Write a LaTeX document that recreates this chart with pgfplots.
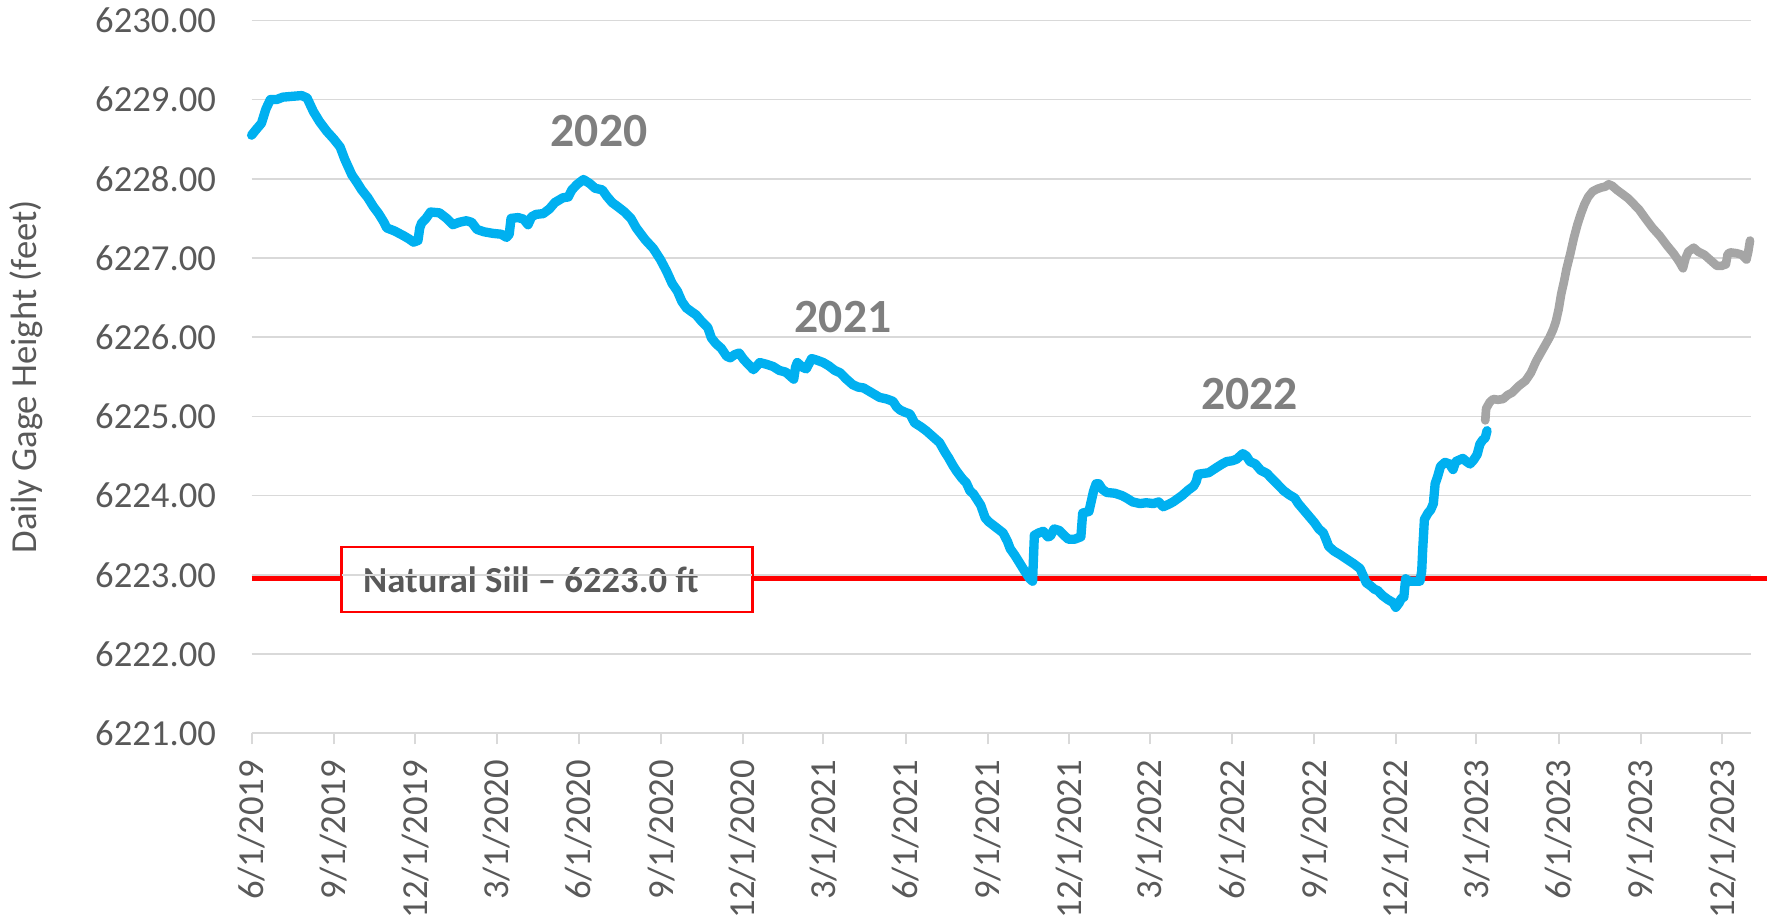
\documentclass[border=0pt]{standalone}
\usepackage{fontspec}
\setmainfont{Carlito}
\usepackage{pgfplots}
\pgfplotsset{compat=1.18}
\usepackage{pgfplotstable}
\usetikzlibrary{calc}
\definecolor{lakeblue}{HTML}{00B0F0}
\definecolor{futuregray}{HTML}{A5A5A5}
\definecolor{yeargray}{HTML}{7F7F7F}
\definecolor{textgray}{HTML}{595959}
\definecolor{gridgray}{HTML}{D9D9D9}

% day = days since 6/1/2019, level = gage height (ft)
\pgfplotstableread{
day level
0 6228.55
5 6228.62
11 6228.70
16 6228.88
21 6229.00
28 6229.00
35 6229.03
45 6229.04
56 6229.05
62 6229.02
69 6228.85
76 6228.72
84 6228.60
92 6228.50
99 6228.40
104 6228.25
112 6228.05
118 6227.95
123 6227.86
130 6227.76
136 6227.65
142 6227.56
148 6227.45
151 6227.38
160 6227.34
170 6227.28
176 6227.24
181 6227.20
186 6227.22
188 6227.38
190 6227.44
195 6227.50
200 6227.58
210 6227.57
218 6227.50
225 6227.42
232 6227.45
240 6227.47
246 6227.45
252 6227.36
260 6227.33
270 6227.31
279 6227.30
285 6227.26
288 6227.30
290 6227.50
298 6227.51
304 6227.49
309 6227.42
313 6227.52
318 6227.55
326 6227.56
333 6227.62
339 6227.70
348 6227.76
354 6227.77
358 6227.86
364 6227.93
371 6227.99
378 6227.94
384 6227.88
392 6227.86
397 6227.78
403 6227.70
409 6227.65
417 6227.58
424 6227.50
430 6227.38
440 6227.23
449 6227.12
457 6226.98
464 6226.83
470 6226.68
476 6226.58
481 6226.45
486 6226.37
492 6226.32
497 6226.28
503 6226.20
510 6226.12
514 6225.99
519 6225.92
525 6225.86
531 6225.76
535 6225.74
540 6225.78
545 6225.80
550 6225.72
555 6225.66
561 6225.59
565 6225.64
568 6225.68
575 6225.66
583 6225.63
590 6225.58
597 6225.56
603 6225.50
606 6225.47
608 6225.62
610 6225.68
616 6225.62
620 6225.60
626 6225.73
632 6225.71
639 6225.68
645 6225.64
652 6225.58
658 6225.55
665 6225.47
672 6225.40
678 6225.37
684 6225.36
693 6225.30
702 6225.24
710 6225.22
717 6225.19
721 6225.12
725 6225.08
731 6225.05
736 6225.03
741 6224.92
748 6224.87
754 6224.82
762 6224.74
769 6224.67
775 6224.55
779 6224.48
784 6224.38
788 6224.31
794 6224.22
799 6224.16
803 6224.06
807 6224.02
811 6223.95
815 6223.88
820 6223.72
824 6223.67
832 6223.60
840 6223.53
845 6223.42
848 6223.33
853 6223.25
858 6223.16
864 6223.05
870 6222.95
873 6222.92
875 6223.50
880 6223.53
885 6223.55
890 6223.48
893 6223.49
897 6223.58
903 6223.56
908 6223.50
913 6223.45
920 6223.45
927 6223.48
929 6223.78
936 6223.80
938 6223.90
941 6224.05
944 6224.15
947 6224.15
951 6224.08
956 6224.04
965 6224.03
973 6224.00
978 6223.97
985 6223.92
993 6223.90
1000 6223.91
1008 6223.90
1014 6223.92
1019 6223.86
1025 6223.89
1030 6223.92
1040 6224.00
1047 6224.07
1053 6224.12
1056 6224.18
1058 6224.27
1064 6224.28
1070 6224.29
1078 6224.35
1085 6224.40
1090 6224.43
1096 6224.44
1101 6224.46
1105 6224.50
1108 6224.53
1112 6224.50
1116 6224.43
1122 6224.40
1128 6224.32
1135 6224.28
1140 6224.22
1147 6224.14
1154 6224.06
1160 6224.01
1166 6223.97
1170 6223.90
1176 6223.82
1182 6223.74
1188 6223.66
1193 6223.58
1198 6223.53
1202 6223.42
1204 6223.36
1210 6223.30
1216 6223.26
1224 6223.20
1232 6223.14
1239 6223.08
1243 6222.98
1246 6222.90
1251 6222.86
1255 6222.82
1259 6222.80
1264 6222.74
1270 6222.69
1276 6222.65
1279 6222.59
1283 6222.65
1285 6222.70
1288 6222.72
1290 6222.95
1294 6222.92
1300 6222.92
1306 6222.92
1308 6223.05
1309 6223.30
1311 6223.70
1315 6223.78
1318 6223.82
1321 6223.90
1323 6224.15
1326 6224.25
1329 6224.37
1334 6224.42
1339 6224.40
1343 6224.33
1346 6224.43
1350 6224.45
1354 6224.47
1358 6224.43
1362 6224.40
1366 6224.45
1370 6224.52
1373 6224.65
1376 6224.70
1379 6224.73
1381 6224.82
}\observed

\pgfplotstableread{
day level
1379 6224.95
1380 6225.10
1384 6225.18
1388 6225.22
1393 6225.21
1399 6225.22
1404 6225.27
1409 6225.30
1416 6225.38
1424 6225.45
1430 6225.55
1436 6225.70
1441 6225.80
1446 6225.90
1451 6226.00
1455 6226.10
1458 6226.20
1461 6226.35
1464 6226.55
1467 6226.70
1470 6226.87
1474 6227.05
1478 6227.25
1482 6227.42
1486 6227.56
1490 6227.68
1494 6227.77
1499 6227.84
1504 6227.87
1509 6227.89
1513 6227.90
1517 6227.93
1521 6227.91
1526 6227.86
1532 6227.81
1539 6227.75
1545 6227.68
1551 6227.61
1558 6227.50
1566 6227.38
1574 6227.28
1582 6227.16
1590 6227.05
1596 6226.95
1600 6226.87
1603 6227.00
1606 6227.08
1612 6227.13
1617 6227.08
1624 6227.04
1631 6226.97
1638 6226.90
1643 6226.90
1648 6226.92
1650 6227.05
1653 6227.07
1660 6227.06
1666 6227.04
1671 6226.98
1673 6227.08
1675 6227.22
}\projected

\begin{document}
\begin{tikzpicture}
\begin{axis}[
  scale only axis, width=449.8pt, height=213.9pt,
  xmin=0, xmax=1676, ymin=6221, ymax=6230,
  clip=false,
  xtick={0,92,183,274,366,458,549,639,731,823,914,1004,1096,1188,1279,1369,1461,1553,1644},
  xticklabels={6/1/2019,9/1/2019,12/1/2019,3/1/2020,6/1/2020,9/1/2020,12/1/2020,3/1/2021,6/1/2021,9/1/2021,12/1/2021,3/1/2022,6/1/2022,9/1/2022,12/1/2022,3/1/2023,6/1/2023,9/1/2023,12/1/2023},
  ytick={6221,6222,...,6230},
  scaled y ticks=false,
  ymajorgrids, grid style={gridgray, line width=0.45pt},
  axis x line*=bottom, axis y line*=left,
  x axis line style={gridgray, line width=0.6pt},
  y axis line style={draw=none},
  xtick style={gridgray, line width=0.6pt}, ytick style={draw=none},
  tick align=outside, major tick length=3.3pt,
  tick label style={font=\fontsize{11}{13}\selectfont, text=textgray,
    /pgf/number format/assume math mode=true},
  xticklabel style={rotate=90, anchor=east, inner sep=0pt},
  xticklabel shift=4.5pt,
  yticklabel style={inner sep=0pt,
    /pgf/number format/.cd, fixed, fixed zerofill, precision=2, 1000 sep={}},
  yticklabel shift=7.2pt,
  ylabel={Daily Gage Height (feet)},
  every axis y label/.style={at={(axis description cs:-0.1505,0.5)}, rotate=90,
    anchor=center, font=\fontsize{11}{13}\selectfont, text=textgray},
]
\coordinate (ll) at (rel axis cs:0,0);
\addplot[red, line width=1.4pt, forget plot] coordinates {(0,6222.95) (1694,6222.95)};
\addplot[lakeblue, line width=2.8pt, line join=round, line cap=round] table[x=day, y=level] {\observed};
\addplot[futuregray, line width=2.6pt, line join=round, line cap=round] table[x=day, y=level] {\projected};
\node[draw=red, line width=0.7pt, fill=white, inner xsep=6.5pt, inner ysep=0pt,
  minimum height=19.5pt, font=\bfseries\fontsize{11}{13}\selectfont, text=textgray]
  at (axis cs:330.3,6222.944) {\makebox[110.3pt][l]{Natural Sill \textendash\ 6223.0 ft}};
\draw[gridgray, line width=0.45pt] (axis cs:101,6223) -- (axis cs:559,6223);
\node[font=\bfseries\fontsize{14.3}{16}\selectfont, text=yeargray] at (axis cs:388.4,6228.606) {2020};
\node[font=\bfseries\fontsize{14.3}{16}\selectfont, text=yeargray] at (axis cs:661.2,6226.259) {2021};
\node[font=\bfseries\fontsize{14.3}{16}\selectfont, text=yeargray] at (axis cs:1115.7,6225.28) {2022};
\end{axis}
\pgfresetboundingbox
\path[use as bounding box] ($(ll)+(-75.48pt,-55.71pt)$) rectangle ($(ll)+(457.62pt,219.99pt)$);
\end{tikzpicture}
\end{document}
